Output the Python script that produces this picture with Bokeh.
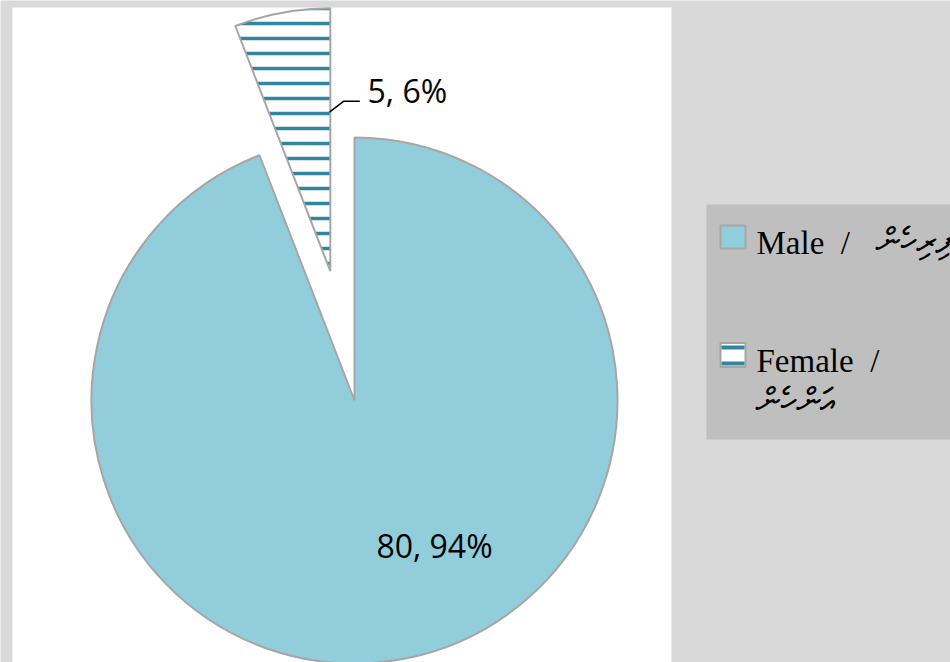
import numpy as np
from bokeh.plotting import figure
from bokeh.models import ColumnDataSource, Range1d
from bokeh.core.properties import value
from bokeh.embed import file_html
from bokeh.resources import INLINE

# ---- data ----
categories = ["Male", "Female"]
counts = [80, 5]
legend_en = ["Male\u00a0\u00a0/", "Female\u00a0\u00a0/"]
legend_dv = ["ފިރިހެން", "އަންހެން"]

# ---- styles ----
MALE_FILL = "#92cddc"
TEAL = "#31859c"
EDGE = "#a6a6a6"
PAGE_BG = "#d9d9d9"
LEGEND_BG = "#bfbfbf"
W, H = 950, 662

cx, cy, R = 354.0, 262.0, 263.0
explode = [0.0, 0.5]

vals = np.array(counts, dtype=float)
frac = vals / vals.sum()
cum = np.concatenate([[0.0], np.cumsum(frac)[:-1]])
theta_start = 90.0 - 360.0 * cum            # clockwise from 12 o'clock
theta_end = 90.0 - 360.0 * (cum + frac)
mid = np.radians((theta_start + theta_end) / 2.0)
ex = np.array(explode)
xs = cx + ex * R * np.cos(mid)
ys = cy + ex * R * np.sin(mid)

src = ColumnDataSource(dict(
    x=xs, y=ys,
    start=np.radians(theta_end), end=np.radians(theta_start),
    fill=[MALE_FILL, "white"],
    hatch=["blank", "horizontal_line"],
))

p = figure(width=W, height=H, output_backend="svg", toolbar_location=None,
           x_range=Range1d(0, W), y_range=Range1d(0, H),
           x_axis_type=None, y_axis_type=None, min_border=0,
           background_fill_color=PAGE_BG, border_fill_color=PAGE_BG)
p.grid.visible = False
p.outline_line_color = None

# chart area
p.quad(left=[12], right=[671], bottom=[0], top=[655], fill_color="white", line_color=None)

p.wedge(x="x", y="y", radius=R, start_angle="start", end_angle="end",
        fill_color="fill", line_color=EDGE, line_width=2,
        hatch_pattern="hatch", hatch_color=TEAL, hatch_scale=15, hatch_weight=3.5,
        source=src)

# data labels
pct = [f"{c}, {round(f*100)}%" for c, f in zip(counts, frac)]
label_font = value("Open Sans")
p.text(x=[cx + 80], y=[cy - 144.5], text=[pct[0]], text_font=label_font,
       text_font_size="32px", text_align="center", text_baseline="middle", text_color="black")
p.text(x=[367], y=[572], text=[pct[1]], text_font=label_font,
       text_font_size="32px", text_align="left", text_baseline="middle", text_color="black")
# leader line for the small slice
p.line(x=[329, 343.3, 359.3], y=[550.3, 561.3, 561.3], line_color="black", line_width=1.5)

# legend
p.quad(left=[706], right=[W], bottom=[223], top=[458], fill_color=LEGEND_BG, line_color=None)
p.quad(left=[720], right=[745], bottom=[414], top=[437], fill_color=MALE_FILL,
       line_color=EDGE, line_width=2)
p.quad(left=[720], right=[745], bottom=[295.5], top=[319.5], fill_color="white",
       line_color=EDGE, line_width=2)
p.quad(left=[721, 721], right=[744, 744], bottom=[297, 313], top=[301, 317],
       fill_color=TEAL, line_color=None)

serif = value("Liberation Serif")
p.text(x=[756, 756], y=[420, 302], text=legend_en, text_font=serif,
       text_font_size="33px", text_align="left", text_baseline="alphabetic", text_color="black")
thaana = value("FreeSerif, DejaVu Sans, Noto Sans, serif")
p.text(x=[875, 755], y=[420, 260], text=legend_dv, text_font=thaana,
       text_font_size="35px", text_align="left", text_baseline="alphabetic", text_color="black")

open("out.html", "w").write(file_html(p, INLINE))
